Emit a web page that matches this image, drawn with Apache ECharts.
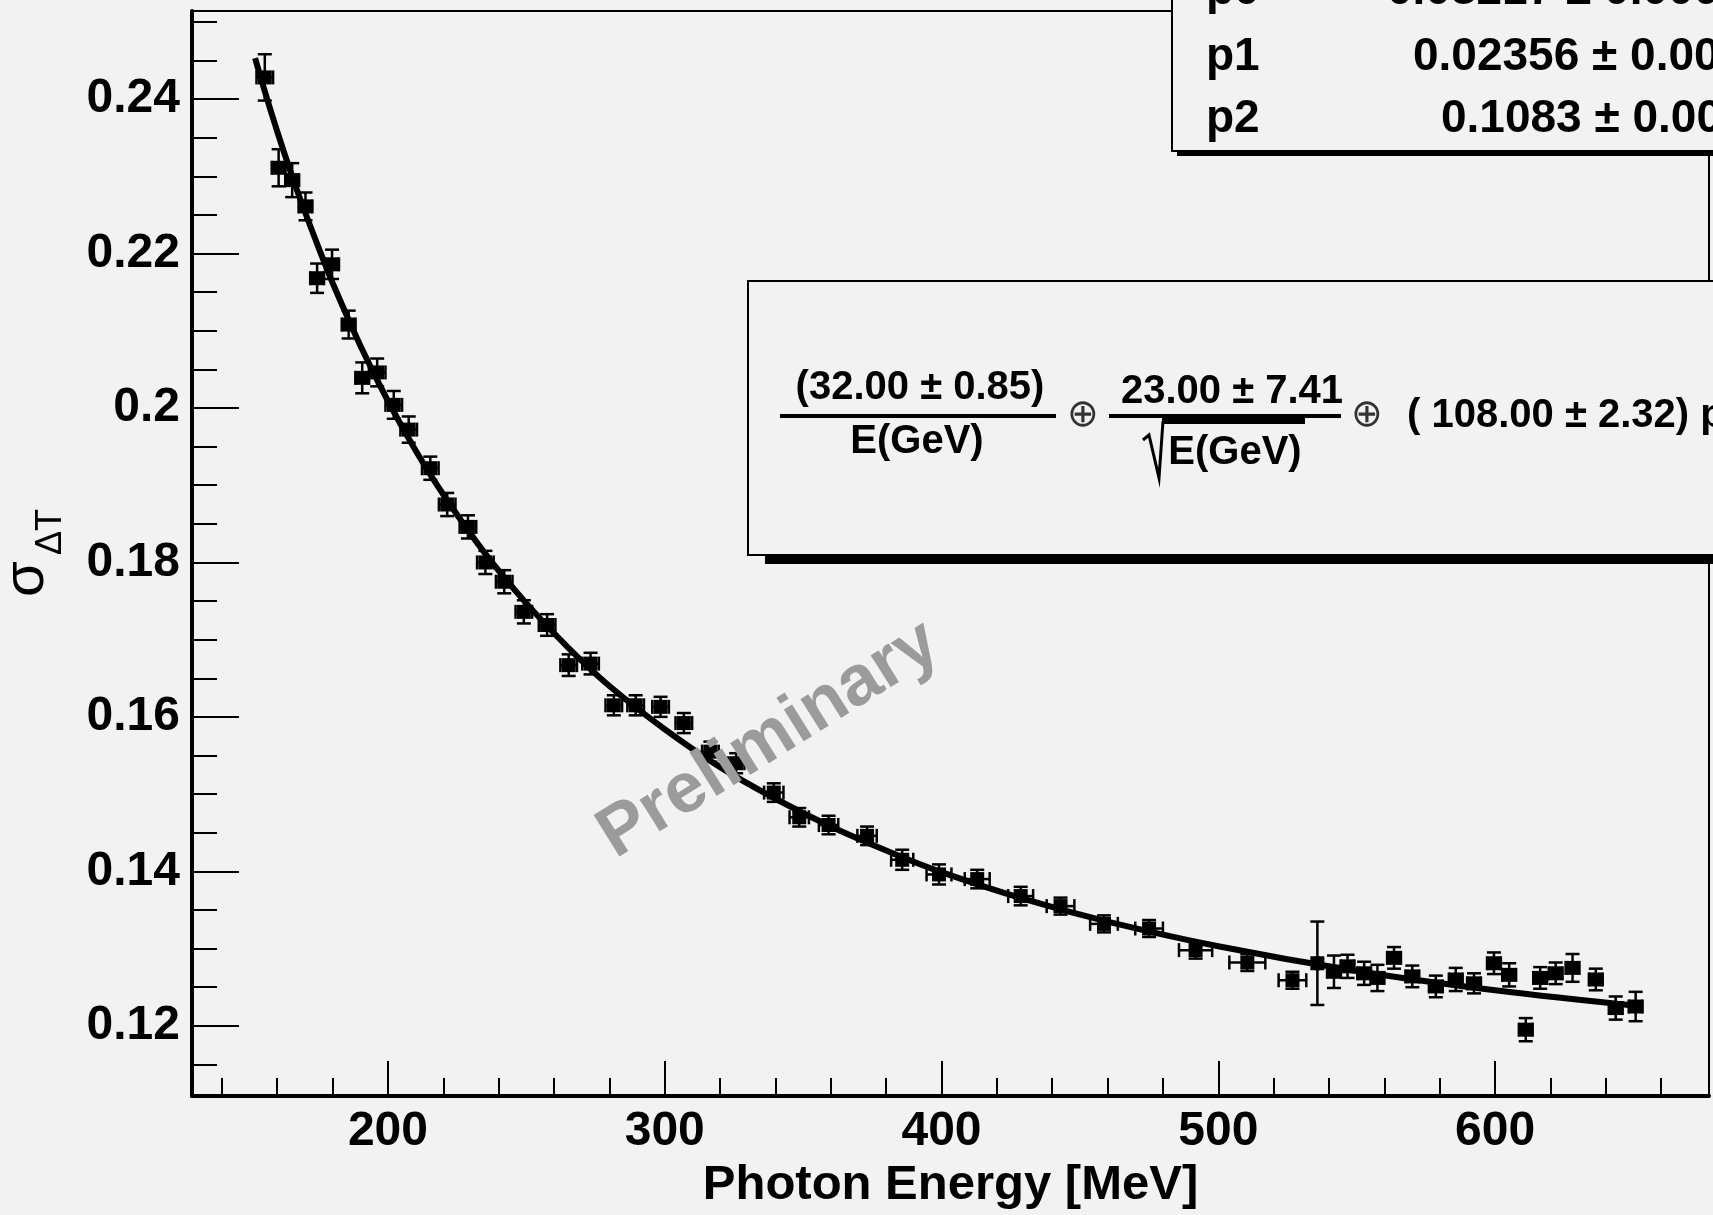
<!DOCTYPE html>
<html>
<head>
<meta charset="utf-8">
<title>sigma dT vs photon energy</title>
<script src="https://cdn.jsdelivr.net/npm/echarts@6.0.0/dist/echarts.min.js"></script>
<style>
  html, body { margin: 0; padding: 0; background: #f2f2f2; }
  #myChart { width: 1713px; height: 1215px; }
</style>
</head>
<body>
<div id="myChart"></div>
<script>
// measured points: photon energy [MeV], sigma, and their errors
var energy = [155.5, 160.5, 165.4, 170.2, 174.4, 179.8, 185.8, 190.7, 196.1, 202.1,
  207.5, 215.3, 221.4, 228.9, 235.2, 242.0, 249.1, 257.5, 265.3, 273.2,
  281.6, 289.5, 298.5, 306.9, 316.5, 325.8, 339.4, 348.6, 359.2, 373.1,
  385.8, 399.1, 412.9, 428.6, 443.0, 458.7, 475.0, 491.8, 510.5, 526.8,
  535.8, 541.8, 546.7, 552.7, 557.5, 563.5, 570.1, 578.6, 585.8, 592.4,
  599.6, 605.1, 611.1, 616.3, 621.9, 628.0, 636.4, 643.6, 650.8];
var sigma = [0.2428, 0.2311, 0.2295, 0.2261, 0.2168, 0.2186, 0.2108, 0.2039, 0.2046, 0.2004,
  0.1972, 0.1922, 0.1875, 0.1846, 0.1800, 0.1775, 0.1736, 0.1719, 0.1667, 0.1669,
  0.1615, 0.1615, 0.1613, 0.1592, 0.1555, 0.1540, 0.1502, 0.1470, 0.1460, 0.1446,
  0.1415, 0.1396, 0.1390, 0.1368, 0.1355, 0.1332, 0.1326, 0.1298, 0.1282, 0.1259,
  0.1281, 0.1270, 0.1277, 0.1268, 0.1262, 0.1288, 0.1264, 0.1251, 0.1260, 0.1255,
  0.1281, 0.1266, 0.1195, 0.1262, 0.1268, 0.1275, 0.1260, 0.1223, 0.1225];
var energyErr = [3, 2.5, 2.5, 2.5, 2.5, 2.5, 2.5, 2.5, 3, 3,
  3, 3, 3, 3, 3, 3, 3, 3, 3, 3,
  3, 3, 3, 3, 3, 3, 3.5, 3.5, 3.5, 3.5,
  4, 4.5, 4.5, 4.5, 5, 5, 5, 6, 6.5, 5,
  0.5, 2.5, 2.5, 2.5, 2.5, 2.5, 2.5, 2.5, 2.5, 2.5,
  2.5, 2.5, 2.5, 2.5, 2.5, 2.5, 2.5, 2.5, 2.5];
var sigmaErr = [0.0030, 0.0024, 0.0022, 0.0018, 0.0019, 0.0019, 0.0018, 0.0020, 0.0018, 0.0018,
  0.0017, 0.0015, 0.0015, 0.0015, 0.0015, 0.0015, 0.0015, 0.0014, 0.0014, 0.0014,
  0.0013, 0.0013, 0.0013, 0.0013, 0.0013, 0.0013, 0.0012, 0.0012, 0.0012, 0.0012,
  0.0013, 0.0013, 0.0012, 0.0012, 0.0011, 0.0011, 0.0011, 0.0011, 0.0011, 0.0011,
  0.0054, 0.0021, 0.0015, 0.0015, 0.0017, 0.0014, 0.0014, 0.0014, 0.0015, 0.0013,
  0.0014, 0.0015, 0.0015, 0.0014, 0.0014, 0.0018, 0.0014, 0.0015, 0.0019];

// fit curve
var fitEnergy = [152, 155, 160, 165, 170, 175, 180, 190, 200, 210, 220, 235, 250, 265,
  280, 300, 320, 340, 360, 380, 400, 430, 460, 500, 550, 600, 651];
var fitSigma = [0.2453, 0.2416, 0.2358, 0.2304, 0.2254, 0.2207, 0.2162, 0.2081, 0.2009, 0.1945,
  0.1888, 0.1812, 0.1747, 0.1690, 0.1640, 0.1584, 0.1535, 0.1494, 0.1458, 0.1427,
  0.1399, 0.1364, 0.1335, 0.1303, 0.1271, 0.1246, 0.1226];

// ticks
var xMajor = [200, 300, 400, 500, 600];
var xMinor = [140, 160, 180, 220, 240, 260, 280, 320, 340, 360, 380, 420, 440, 460, 480,
  520, 540, 560, 580, 620, 640, 660];
var yMajor = [0.12, 0.14, 0.16, 0.18, 0.2, 0.22, 0.24];
var yMinor = [0.115, 0.125, 0.13, 0.135, 0.145, 0.15, 0.155, 0.165, 0.17, 0.175,
  0.185, 0.19, 0.195, 0.205, 0.21, 0.215, 0.225, 0.23, 0.235, 0.245, 0.25];

// fit box
var parNames = ['p0', 'p1', 'p2'];
var parValues = ['0.03217 \u00b1 0.00085', '0.02356 \u00b1 0.00741', '0.1083 \u00b1 0.00232'];

var FONT = '"Liberation Sans", Arial, Helvetica, sans-serif';

function errBar(params, api) {
  var x = api.value(0), y = api.value(1), ex = api.value(2), ey = api.value(3);
  var c = api.coord([x, y]);
  var l = api.coord([x - ex, y]), r = api.coord([x + ex, y]);
  var t = api.coord([x, y + ey]), b = api.coord([x, y - ey]);
  var st = { stroke: '#000', lineWidth: 2.5 };
  var cap = 7, h = 7;
  return {
    type: 'group',
    children: [
      { type: 'line', shape: { x1: c[0], y1: t[1], x2: c[0], y2: b[1] }, style: st },
      { type: 'line', shape: { x1: c[0] - cap, y1: t[1], x2: c[0] + cap, y2: t[1] }, style: st },
      { type: 'line', shape: { x1: c[0] - cap, y1: b[1], x2: c[0] + cap, y2: b[1] }, style: st },
      { type: 'line', shape: { x1: l[0], y1: c[1], x2: r[0], y2: c[1] }, style: st },
      { type: 'line', shape: { x1: l[0], y1: c[1] - cap, x2: l[0], y2: c[1] + cap }, style: st },
      { type: 'line', shape: { x1: r[0], y1: c[1] - cap, x2: r[0], y2: c[1] + cap }, style: st },
      { type: 'rect', shape: { x: c[0] - h, y: c[1] - h, width: 2 * h, height: 2 * h }, style: { fill: '#000' } }
    ]
  };
}

function txt(text, x, y, size, opts) {
  opts = opts || {};
  return {
    type: 'text', x: x, y: y, z: opts.z || 120, rotation: opts.rot || 0,
    style: {
      text: text, fill: opts.color || '#000',
      fontSize: size, fontWeight: opts.weight || 'bold', fontFamily: opts.family || FONT,
      align: opts.align || 'center', textAlign: opts.align || 'center',
      verticalAlign: 'middle', textVerticalAlign: 'middle'
    }
  };
}

var myChart = echarts.init(document.getElementById('myChart'), null, { renderer: 'canvas' });

var pts = energy.map(function (e, i) { return [e, sigma[i], energyErr[i], sigmaErr[i]]; });
var fit = fitEnergy.map(function (e, i) { return [e, fitSigma[i]]; });

var graphics = [
  // stat box
  { type: 'rect', z: 100, shape: { x: 1177, y: 150, width: 600, height: 6 }, style: { fill: '#000' } },
  { type: 'rect', z: 101, shape: { x: 1172, y: -10, width: 600, height: 161 }, style: { fill: '#f2f2f2', stroke: '#000', lineWidth: 2 } },
  // formula box
  { type: 'rect', z: 100, shape: { x: 765, y: 554, width: 1000, height: 10 }, style: { fill: '#000' } },
  { type: 'rect', z: 101, shape: { x: 748, y: 281, width: 1000, height: 274 }, style: { fill: '#f2f2f2', stroke: '#000', lineWidth: 2 } },
  // fraction bars and sqrt
  { type: 'rect', z: 120, shape: { x: 780, y: 414, width: 276, height: 4 }, style: { fill: '#000' } },
  { type: 'rect', z: 120, shape: { x: 1109, y: 414, width: 232, height: 4 }, style: { fill: '#000' } },
  { type: 'rect', z: 120, shape: { x: 1162, y: 414, width: 143, height: 10 }, style: { fill: '#000' } },
  { type: 'polyline', z: 120, shape: { points: [[1143, 440], [1149, 435], [1159, 478], [1163, 421]] }, style: { stroke: '#000', lineWidth: 3, fill: null } },
  txt('(32.00 \u00b1 0.85)', 920, 388, 40),
  txt('E(GeV)', 917, 442, 40),
  txt('\u2295', 1083, 416, 38, { weight: 'normal', color: '#333', family: '"DejaVu Sans", sans-serif' }),
  txt('23.00 \u00b1 7.41', 1232, 392, 40),
  txt('E(GeV)', 1235, 453, 40),
  txt('\u2295', 1367, 416, 38, { weight: 'normal', color: '#333', family: '"DejaVu Sans", sans-serif' }),
  txt('( 108.00 \u00b1 2.32) ps', 1407, 416, 40, { align: 'left' }),
  // y title
  txt('\u03c3', 27, 579, 58, { rot: Math.PI / 2, weight: 'normal' }),
  txt('\u0394T', 51, 532, 36, { rot: Math.PI / 2, weight: 'normal' }),
  // watermark
  txt('Preliminary', 769, 740, 71, { rot: 32 * Math.PI / 180, color: '#9b9b9b', z: 130 })
];
var rowY = [-9, 57, 119];
var valX = [1387, 1413, 1441];
parNames.forEach(function (n, i) {
  graphics.push(txt(n, 1206, rowY[i], 46, { align: 'left' }));
  graphics.push(txt(parValues[i], valX[i], rowY[i], 46, { align: 'left' }));
});

var option = {
  backgroundColor: '#f2f2f2',
  animation: false,
  grid: { left: 192, top: 11, right: 4, bottom: 118.5, show: true, borderColor: '#000', borderWidth: 2, backgroundColor: 'transparent' },
  xAxis: [
    {
      type: 'value', min: 129.2, max: 677.3, position: 'bottom',
      axisLine: { show: true, lineStyle: { color: '#000', width: 4 } },
      axisTick: { show: true, inside: true, length: 35, customValues: xMajor, lineStyle: { color: '#000', width: 2 } },
      axisLabel: { show: true, customValues: xMajor, margin: 12, color: '#000', fontSize: 48, fontWeight: 'bold', fontFamily: FONT },
      splitLine: { show: false },
      name: 'Photon Energy [MeV]', nameLocation: 'middle', nameGap: 58,
      nameTextStyle: { color: '#000', fontSize: 49, fontWeight: 'bold', fontFamily: FONT }
    },
    {
      type: 'value', min: 129.2, max: 677.3, position: 'bottom',
      axisLine: { show: false },
      axisTick: { show: true, inside: true, length: 18, customValues: xMinor, lineStyle: { color: '#000', width: 2 } },
      axisLabel: { show: false },
      splitLine: { show: false }
    }
  ],
  yAxis: [
    {
      type: 'value', min: 0.1109, max: 0.2514, position: 'left',
      axisLine: { show: true, lineStyle: { color: '#000', width: 4 } },
      axisTick: { show: true, inside: true, length: 47, customValues: yMajor, lineStyle: { color: '#000', width: 2 } },
      axisLabel: {
        show: true, customValues: yMajor, margin: 12, color: '#000', fontSize: 48, fontWeight: 'bold', fontFamily: FONT,
        formatter: function (v) { return String(parseFloat(Number(v).toFixed(2))); }
      },
      splitLine: { show: false }
    },
    {
      type: 'value', min: 0.1109, max: 0.2514, position: 'left',
      axisLine: { show: false },
      axisTick: { show: true, inside: true, length: 25, customValues: yMinor, lineStyle: { color: '#000', width: 2 } },
      axisLabel: { show: false },
      splitLine: { show: false }
    }
  ],
  series: [
    {
      type: 'custom', xAxisIndex: 0, yAxisIndex: 0,
      renderItem: errBar, data: pts, z: 3, silent: true
    },
    {
      type: 'line', xAxisIndex: 0, yAxisIndex: 0,
      data: fit, smooth: 0.4, showSymbol: false, z: 4,
      lineStyle: { color: '#000', width: 6 }
    }
  ],
  graphic: graphics
};

myChart.setOption(option);
</script>
</body>
</html>
